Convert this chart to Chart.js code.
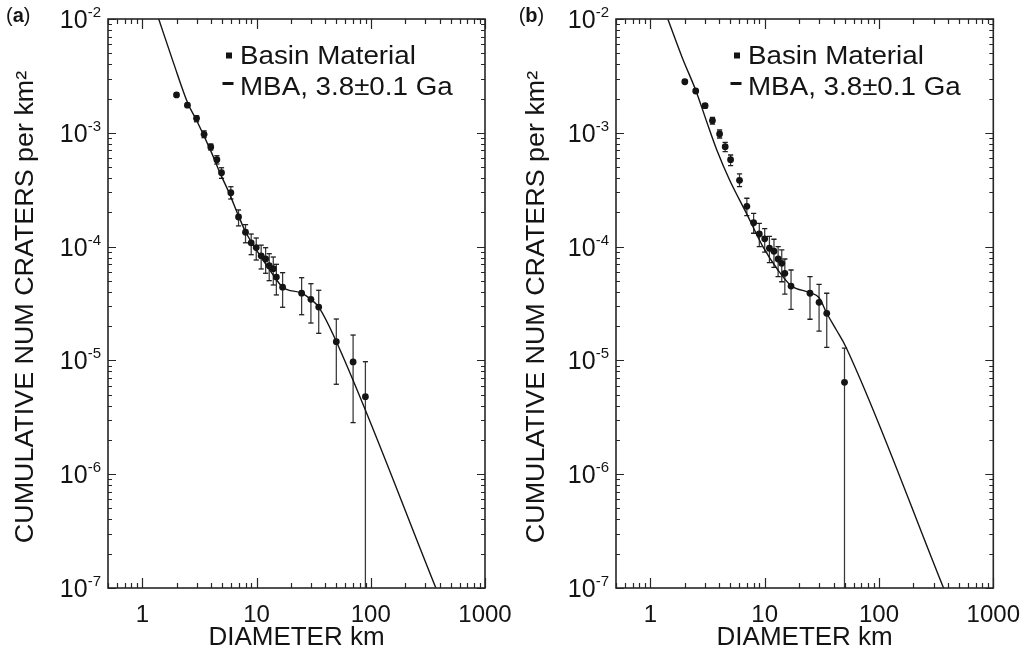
<!DOCTYPE html>
<html>
<head>
<meta charset="utf-8">
<script src="https://cdn.jsdelivr.net/npm/chart.js@4.4.1/dist/chart.umd.min.js"></script>
<style>
  html, body { margin: 0; padding: 0; background: #ffffff; }
  #wrap { position: relative; width: 1032px; height: 656px; overflow: hidden; }
  canvas { position: absolute; top: 0; }
  #ca { left: 0; }
  #cb { left: 516px; }
</style>
</head>
<body>
<div id="wrap">
  <canvas id="ca" width="516" height="656"></canvas>
  <canvas id="cb" width="516" height="656"></canvas>
</div>
<script>
// ---------------- DATA ----------------
// Panel (a)
const diamA = [1.99, 2.48, 2.98, 3.47, 3.97, 4.49, 4.93, 5.95, 6.95, 8.0, 8.97, 9.93, 10.97, 12.0, 12.9, 14.0, 14.9, 16.9, 24.8, 29.9, 35.0, 49.9, 70.0, 89.7];
const densA = [2.15e-3, 1.75e-3, 1.34e-3, 9.7e-4, 7.5e-4, 5.8e-4, 4.46e-4, 2.98e-4, 1.82e-4, 1.34e-4, 1.08e-4, 9.8e-5, 8.3e-5, 7.8e-5, 6.8e-5, 6.4e-5, 5.4e-5, 4.4e-5, 3.9e-5, 3.44e-5, 2.94e-5, 1.46e-5, 9.7e-6, 4.8e-6];
const errHiA = [2.21e-3, 1.81e-3, 1.41e-3, 1.04e-3, 7.97e-4, 6.29e-4, 4.93e-4, 3.36e-4, 2.10e-4, 1.56e-4, 1.29e-4, 1.19e-4, 1.03e-4, 9.78e-5, 8.66e-5, 8.10e-5, 6.99e-5, 5.90e-5, 5.33e-5, 4.72e-5, 4.13e-5, 2.31e-5, 1.67e-5, 9.74e-6];
const errLoA = [2.09e-3, 1.70e-3, 1.25e-3, 9.06e-4, 7.06e-4, 5.32e-4, 3.98e-4, 2.62e-4, 1.52e-4, 1.08e-4, 8.49e-5, 7.62e-5, 6.36e-5, 5.83e-5, 5.02e-5, 4.60e-5, 3.76e-5, 2.93e-5, 2.52e-5, 2.13e-5, 1.73e-5, 6.17e-6, 2.84e-6, 1e-9];
const fitDiamA = [1.39, 1.86, 2.51, 2.98, 3.98, 4.8, 5.76, 7.0, 8.0, 11.4, 14.2, 16.9, 24.8, 29.9, 35.0, 50.0, 371.5];
const fitDensA = [1.0e-2, 4.2e-3, 1.8e-3, 1.29e-3, 6.9e-4, 4.4e-4, 2.95e-4, 1.83e-4, 1.35e-4, 7.6e-5, 5.5e-5, 4.4e-5, 3.9e-5, 3.44e-5, 2.94e-5, 1.46e-5, 1.0e-7];

// Panel (b)
const diamB = [2.0, 2.49, 3.01, 3.49, 4.03, 4.51, 5.03, 6.02, 6.98, 8.0, 8.97, 10.0, 11.0, 12.05, 13.1, 14.1, 15.0, 17.0, 24.9, 29.9, 34.9, 49.9];
const densB = [2.81e-3, 2.33e-3, 1.73e-3, 1.28e-3, 9.76e-4, 7.55e-4, 5.80e-4, 3.82e-4, 2.26e-4, 1.62e-4, 1.29e-4, 1.17e-4, 9.67e-5, 9.1e-5, 7.78e-5, 7.13e-5, 5.82e-5, 4.5e-5, 3.89e-5, 3.24e-5, 2.59e-5, 6.42e-6];
const errHiB = [2.90e-3, 2.40e-3, 1.80e-3, 1.365e-3, 1.058e-3, 8.25e-4, 6.38e-4, 4.35e-4, 2.66e-4, 1.96e-4, 1.60e-4, 1.44e-4, 1.23e-4, 1.16e-4, 9.98e-5, 9.34e-5, 7.78e-5, 6.23e-5, 5.44e-5, 4.66e-5, 3.89e-5, 1.28e-5];
const errLoB = [2.73e-3, 2.26e-3, 1.66e-3, 1.195e-3, 9.0e-4, 6.82e-4, 5.14e-4, 3.36e-4, 1.87e-4, 1.31e-4, 9.98e-5, 8.96e-5, 7.22e-5, 6.58e-5, 5.44e-5, 4.91e-5, 3.83e-5, 2.81e-5, 2.30e-5, 1.81e-5, 1.30e-5, 1e-9];
const fitDiamB = [1.42, 1.9, 2.52, 3.1, 3.81, 4.93, 6.98, 9.64, 13.05, 17.0, 24.9, 29.9, 35.1, 42.4, 51.2, 367];
const fitDensB = [1.0e-2, 4.57e-3, 2.30e-3, 1.26e-3, 7.06e-4, 3.85e-4, 1.93e-4, 1.0e-4, 6.23e-5, 4.54e-5, 3.93e-5, 3.55e-5, 2.57e-5, 1.85e-5, 1.32e-5, 1.0e-7];

// Axis ticks and labels
const xTickValues = [1, 10, 100, 1000];
const xTickLabels = ['1', '10', '100', '1000'];
const yTickValues = [1e-2, 1e-3, 1e-4, 1e-5, 1e-6, 1e-7];
const yTickExps = ['-2', '-3', '-4', '-5', '-6', '-7'];
const xTitle = 'DIAMETER km';
const yTitle = 'CUMULATIVE NUM CRATERS per km\u00B2';
const legendData = 'Basin Material';
const legendFit = 'MBA, 3.8\u00B10.1 Ga';
const panelLetters = ['a', 'b'];

// ---------------- RENDERING ----------------
const FONT = "'Liberation Sans', Arial, Helvetica, sans-serif";
const INK = '#141414';

function pts(xs, ys) { return xs.map((x, i) => ({ x: x, y: ys[i] })); }
function errSegs(xs, lo, hi) {
  const out = [];
  xs.forEach((x, i) => { out.push({ x: x, y: lo[i] }, { x: x, y: hi[i] }, { x: x, y: null }); });
  return out;
}
function stretchText(ctx, txt, x, y, sx) {
  ctx.save(); ctx.translate(x, y); ctx.scale(sx, 1); ctx.fillText(txt, 0, 0); ctx.restore();
}

const framePlugin = {
  id: 'frame',
  afterDraw(chart, args, o) {
    const ctx = chart.ctx, a = chart.chartArea, xs = chart.scales.x, ys = chart.scales.y;
    ctx.save();
    // ticks
    ctx.strokeStyle = '#262626';
    ctx.lineWidth = 1.2;
    ctx.beginPath();
    for (let e = -1; e <= 3; e++) {
      for (let m = 1; m <= 9; m++) {
        const v = m * Math.pow(10, e);
        if (v < 0.5 - 1e-9 || v > 1000 + 1e-6) continue;
        const px = Math.round(xs.getPixelForValue(v)) + 0.5;
        const len = (m === 1) ? 10 : 5;
        ctx.moveTo(px, a.bottom); ctx.lineTo(px, a.bottom - len);
        ctx.moveTo(px, a.top); ctx.lineTo(px, a.top + len);
      }
    }
    for (let e = -7; e <= -2; e++) {
      for (let m = 1; m <= 9; m++) {
        const v = m * Math.pow(10, e);
        if (v < 1e-7 * 0.999 || v > 1e-2 * 1.001) continue;
        const py = Math.round(ys.getPixelForValue(v)) + 0.5;
        const len = (m === 1) ? 8 : 4;
        ctx.moveTo(a.left, py); ctx.lineTo(a.left + len, py);
        ctx.moveTo(a.right, py); ctx.lineTo(a.right - len, py);
      }
    }
    ctx.stroke();
    // box
    ctx.lineWidth = 1.6;
    ctx.strokeRect(a.left, a.top, a.right - a.left, a.bottom - a.top);

    ctx.fillStyle = INK;
    // x tick labels
    ctx.font = '24px ' + FONT;
    ctx.textAlign = 'center'; ctx.textBaseline = 'alphabetic';
    xTickValues.forEach((v, i) => {
      ctx.fillText(xTickLabels[i], xs.getPixelForValue(v), 622);
    });
    // y tick labels 10^n
    yTickValues.forEach((v, i) => {
      const py = ys.getPixelForValue(v);
      ctx.font = '15px ' + FONT;
      const we = ctx.measureText(yTickExps[i]).width;
      ctx.textAlign = 'left';
      const right = a.left - 7;
      ctx.fillText(yTickExps[i], right - we, py - 2);
      ctx.font = '25px ' + FONT;
      ctx.textAlign = 'right';
      ctx.fillText('10', right - we, py + 9);
    });
    // x title
    ctx.font = '26px ' + FONT;
    ctx.textAlign = 'center';
    ctx.fillText(xTitle, (a.left + a.right) / 2, 645);
    // y title
    ctx.save();
    ctx.translate(o.yTitleX, 307);
    ctx.rotate(-Math.PI / 2);
    ctx.textAlign = 'center';
    ctx.font = '25px ' + FONT;
    ctx.scale(1.075, 1);
    ctx.fillText(yTitle, 0, 0);
    ctx.restore();
    // panel label
    ctx.textAlign = 'left';
    ctx.font = '20px ' + FONT;
    let x0 = o.panelX;
    ctx.fillText('(', x0, 22); x0 += ctx.measureText('(').width;
    ctx.font = 'bold 20px ' + FONT;
    ctx.fillText(o.letter, x0, 22); x0 += ctx.measureText(o.letter).width;
    ctx.font = '20px ' + FONT;
    ctx.fillText(')', x0, 22);
    // legend
    const lx = a.left + 132;
    ctx.fillRect(lx - 14, 52.5, 6, 6);
    ctx.fillRect(lx - 17.5, 82, 11, 3);
    ctx.font = '25px ' + FONT;
    ctx.textAlign = 'left';
    stretchText(ctx, legendData, lx, 63.5, 1.11);
    stretchText(ctx, legendFit, lx, 95, 1.11);
    ctx.restore();
  }
};

function makeChart(id, p) {
  new Chart(document.getElementById(id), {
    type: 'scatter',
    data: {
      datasets: [
        {
          label: legendData,
          data: pts(p.d, p.n),
          showLine: false,
          pointRadius: 3.4,
          pointBackgroundColor: INK,
          pointBorderWidth: 0,
          order: 0
        },
        {
          label: legendFit,
          type: 'line',
          data: pts(p.fd, p.fn),
          showLine: true,
          borderColor: INK,
          borderWidth: 1.4,
          pointRadius: 0,
          fill: false,
          cubicInterpolationMode: 'monotone',
          order: 1
        },
        {
          label: 'error',
          type: 'line',
          data: errSegs(p.d, p.lo, p.hi),
          showLine: true,
          spanGaps: false,
          borderColor: '#383838',
          borderWidth: 1.25,
          pointStyle: 'line',
          pointRadius: 2.6,
          pointBorderColor: '#1e1e1e',
          pointBorderWidth: 1.3,
          fill: false,
          order: 2
        }
      ]
    },
    options: {
      responsive: false,
      animation: false,
      events: [],
      layout: { padding: p.pad },
      plugins: { legend: { display: false }, tooltip: { enabled: false }, frame: p.frame },
      scales: {
        x: { type: 'logarithmic', min: 0.5, max: 1000, display: false },
        y: { type: 'logarithmic', min: 1e-7, max: 1e-2, display: false }
      }
    },
    plugins: [framePlugin]
  });
}

makeChart('ca', {
  d: diamA, n: densA, lo: errLoA, hi: errHiA, fd: fitDiamA, fn: fitDensA,
  pad: { left: 108, right: 31, top: 19, bottom: 68 },
  frame: { yTitleX: 33, panelX: 6, letter: panelLetters[0] }
});
makeChart('cb', {
  d: diamB, n: densB, lo: errLoB, hi: errHiB, fd: fitDiamB, fn: fitDensB,
  pad: { left: 100, right: 38.7, top: 19, bottom: 68 },
  frame: { yTitleX: 28, panelX: 2.7, letter: panelLetters[1] }
});
</script>
</body>
</html>
